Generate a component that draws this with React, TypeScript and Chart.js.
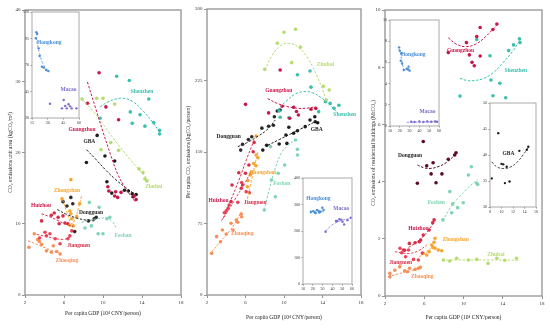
import React, { useEffect, useRef } from 'react';
import { Chart, registerables } from 'chart.js';
Chart.register(...registerables);

type P = [number, number];
type Lbl = [string, number, number, string];

const FONT = "'Liberation Serif', 'DejaVu Serif', serif";

const COL: Record<string, string> = {
  guangzhou: '#c8184a', shenzhen: '#3cbfae', zhuhai: '#b5dc6e', gba: '#1e1e1e', dongguan: '#2b2b2b',
  dongguan3: '#5a0c22', zhongshan: '#f7a531', huizhou: '#d52f48', jiangmen: '#e8455a', zhaoqing: '#f8905a',
  foshan: '#7fd4b2', hongkong: '#4a8fd8', macao: '#7b6cd1',
};

const X_TITLE = 'Per capita GDP (10\u2074 CNY/person)';
const P1_Y_TITLE = 'CO\u2082 emissions unit area (kgCO\u2082/m\u00b2)';
const P2_Y_TITLE = 'Per capita CO\u2082 emissions (kgCO\u2082/person)';
const P3_Y_TITLE = 'CO\u2082 emissions of residential buildings (MtCO\u2082)';

// ---------- Panel 1: emissions per unit area ----------
const p1Guangzhou: P[] = [[9.6, 31.2], [8.4, 26.9], [10.3, 26.4], [11.6, 24.6], [10.5, 15.2], [10.6, 14.6], [11.3, 14.5], [11.2, 13.9], [11.5, 13.7], [11.85, 14.4], [13.2, 13.9], [13.4, 13.4]];
const p1GuangzhouFit: P[] = [[8.4, 29.9], [9.2, 26.4], [10.0, 22.9], [10.8, 19.6], [11.5, 17.0], [12.2, 15.2], [12.8, 14.0], [13.3, 13.1]];
const p1Shenzhen: P[] = [[11.4, 30.7], [12.7, 30.1], [14.7, 27.5], [12.8, 25.7], [9.7, 24.8], [13.8, 25.3], [13.0, 24.1], [14.3, 23.7], [15.2, 24.2], [15.8, 23.1], [15.8, 22.6]];
const p1ShenzhenFit: P[] = [[9.7, 26.4], [10.5, 27.1], [11.3, 27.5], [12.1, 27.6], [13.0, 27.2], [14.0, 26.0], [15.0, 24.4], [15.8, 22.9]];
const p1Zhuhai: P[] = [[7.85, 27.5], [9.35, 27.6], [10.0, 27.6], [11.2, 26.8], [10.8, 21.4], [9.8, 20.4], [11.6, 20.3], [13.7, 17.7], [14.1, 17.2], [14.3, 16.3], [14.5, 16.0]];
const p1ZhuhaiFit: P[] = [[7.9, 27.4], [9.0, 25.8], [10.2, 23.6], [11.5, 21.2], [12.8, 19.0], [13.8, 17.4], [14.7, 16.1]];
const p1Gba: P[] = [[9.4, 22.4], [10.2, 19.5], [11.2, 18.8], [8.3, 18.6], [10.4, 15.9], [10.9, 14.3], [12.2, 14.7], [12.6, 14.6], [13.0, 14.2], [13.4, 14.1], [13.1, 13.8]];
const p1GbaFit: P[] = [[8.3, 20.4], [9.3, 19.0], [10.3, 17.5], [11.3, 16.2], [12.3, 15.1], [13.1, 14.3]];
const p1Dongguan: P[] = [[5.9, 13.1], [6.9, 12.8], [6.7, 13.7], [9.3, 10.9], [9.1, 10.7], [8.5, 10.4], [7.1, 8.9], [6.3, 12.5]];
const p1DongguanFit: P[] = [[5.3, 12.0], [6.3, 11.3], [7.3, 10.8], [8.3, 10.5], [9.2, 10.4]];
const p1Zhongshan: P[] = [[6.7, 16.2], [5.8, 13.5], [6.6, 11.8], [6.7, 11.4], [6.8, 10.7], [6.6, 9.8], [6.95, 9.7], [7.3, 11.0], [7.6, 12.8]];
const p1ZhongshanFit: P[] = [[5.85, 13.4], [6.3, 11.6], [6.8, 10.0], [7.2, 10.9], [7.5, 12.3], [7.8, 13.9]];
const p1Huizhou: P[] = [[3.7, 10.4], [5.0, 11.5], [5.9, 11.1], [5.5, 10.0], [6.1, 10.1], [6.4, 10.0], [5.4, 10.9], [4.7, 11.2]];
const p1HuizhouFit: P[] = [[3.7, 11.4], [4.5, 11.0], [5.3, 10.5], [6.1, 10.0], [6.95, 9.6]];
const p1Jiangmen: P[] = [[4.05, 8.8], [4.56, 8.6], [4.2, 8.3], [5.1, 7.9], [5.6, 7.2], [6.4, 7.9], [6.6, 8.3], [6.8, 9.0], [3.5, 8.0]];
const p1JiangmenFit: P[] = [[3.2, 8.5], [4.2, 8.2], [5.2, 7.9], [6.0, 7.8], [6.6, 8.1]];
const p1Zhaoqing: P[] = [[2.4, 6.7], [2.95, 8.6], [3.47, 7.5], [3.7, 7.1], [4.9, 6.9], [4.2, 6.2], [4.7, 6.0], [5.25, 6.1], [5.6, 5.75], [3.3, 7.8]];
const p1ZhaoqingFit: P[] = [[2.3, 7.6], [3.2, 7.1], [4.1, 6.6], [5.0, 6.1], [5.8, 5.7]];
const p1Foshan: P[] = [[8.6, 13.0], [9.6, 12.3], [10.4, 10.7], [10.7, 10.9], [8.8, 9.7], [9.5, 8.6], [10.0, 8.6], [8.15, 9.4]];
const p1FoshanFit: P[] = [[7.8, 10.2], [8.6, 10.5], [9.5, 10.7], [10.4, 10.8], [11.0, 10.2], [11.4, 9.3]];
const p1Labels: Lbl[] = [
  ['Shenzhen', 14.0, 28.5, 'shenzhen'], ['Guangzhou', 7.85, 23.2, 'guangzhou'], ['GBA', 8.6, 21.6, 'gba'],
  ['Zhuhai', 15.2, 15.2, 'zhuhai'], ['Zhongshan', 6.3, 14.6, 'zhongshan'], ['Huizhou', 3.64, 12.5, 'guangzhou'],
  ['Dongguan', 8.77, 11.6, 'gba'], ['Foshan', 12.05, 8.4, 'foshan'], ['Jiangmen', 7.5, 7.0, 'huizhou'],
  ['Zhaoqing', 6.3, 4.8, 'zhaoqing'],
];
const i1Hongkong: P[] = [[19.9, 99.2], [18.7, 95.2], [21.4, 85.7], [22.3, 78.5], [24.5, 68.4], [26.3, 67.5], [28.5, 65.3], [30.6, 64.3], [19.2, 101]];
const i1HongkongFit: P[] = [[18.7, 96], [20.5, 88], [22.5, 80], [25, 72], [28, 67], [31.5, 63.7]];
const i1Macao: P[] = [[32.2, 33.5], [45.3, 37], [46.8, 31.3], [48.3, 29.1], [53, 29.1], [57.5, 29.1], [43.7, 29.1], [50, 33], [51.5, 31]];
const i1Labels: Lbl[] = [['Hongkong', 31.5, 90.8, 'hongkong'], ['Macao', 50, 46.4, 'macao']];

// ---------- Panel 2: per capita emissions ----------
const p2Zhuhai: P[] = [[10.0, 275.6], [11.2, 278.7], [9.3, 264], [10.8, 243.7], [8.0, 236.7], [11.7, 260], [14.1, 219], [14.4, 204.5], [14.7, 215]];
const p2ZhuhaiFit: P[] = [[8.0, 236], [8.8, 252], [9.7, 262], [10.5, 264], [11.5, 260], [12.5, 248], [13.5, 228], [14.4, 204.5]];
const p2Guangzhou: P[] = [[9.6, 236], [6.0, 200], [8.4, 191], [9.8, 198], [11.0, 196.9], [12.8, 194.8], [13.3, 195.8], [10.6, 185.4], [11.5, 188.8], [11.3, 192.5]];
const p2GuangzhouFit: P[] = [[8.3, 206], [9.3, 201], [10.4, 197.5], [11.5, 195.8], [12.4, 196], [13.25, 197.5]];
const p2Shenzhen: P[] = [[11.4, 231], [12.7, 235], [12.8, 218], [14.3, 202.8], [14.8, 201], [15.7, 199], [15.2, 195.8], [10.5, 186], [9.5, 193], [13.6, 192.3], [9.6, 186.4]];
const p2ShenzhenFit: P[] = [[9.3, 194], [10.3, 204], [11.2, 211], [12.05, 213.3], [13.0, 212], [14.0, 206], [14.9, 198], [15.6, 190.6]];
const p2Gba: P[] = [[8.2, 157], [7.8, 152], [10.5, 175.9], [11.4, 172.3], [11.0, 169.6], [10.2, 167.8], [13.25, 181.8], [13.5, 180.7], [13.2, 187], [12.7, 183.6], [12.2, 176.6], [9.5, 158.4], [10.3, 159]];
const p2GbaFit: P[] = [[8.3, 157], [9.5, 163], [10.7, 169], [12.0, 175.5], [13.25, 181.8]];
const p2Dongguan: P[] = [[5.5, 152], [5.7, 158], [6.3, 163], [6.65, 166], [7.7, 175], [8.4, 177], [8.9, 178], [9.0, 187], [9.3, 193], [9.6, 194]];
const p2DongguanFit: P[] = [[5.2, 155.6], [6.2, 160], [7.2, 166], [8.2, 173], [9.1, 183.6]];
const p2Zhongshan: P[] = [[7.1, 135.6], [6.6, 128.7], [6.24, 120], [7.1, 146.9], [7.3, 144], [6.85, 138], [6.5, 125.9], [6.2, 113.6], [7.1, 166.8]];
const p2ZhongshanFit: P[] = [[6.2, 101], [6.5, 115], [6.8, 128], [7.05, 140], [7.3, 150]];
const p2Huizhou: P[] = [[6.8, 150.3], [6.35, 136.4], [5.3, 128.3], [6.0, 127.7], [5.7, 115.4], [5.56, 111.9], [4.5, 97.9], [4.6, 115.4], [6.9, 160]];
const p2HuizhouFit: P[] = [[3.7, 80.5], [4.5, 100], [5.3, 120], [6.1, 142], [6.9, 162.6]];
const p2Jiangmen: P[] = [[6.07, 108.4], [6.4, 107.3], [5.2, 97.2], [4.0, 88.4], [4.2, 91], [3.8, 86.3], [4.3, 94.4], [5.6, 118]];
const p2JiangmenFit: P[] = [[3.5, 78], [4.3, 90], [5.0, 102], [5.8, 115], [6.5, 128]];
const p2Zhaoqing: P[] = [[2.48, 43.7], [3.0, 61.2], [3.4, 55.9], [3.6, 68.2], [4.5, 75.2], [4.7, 68.2], [5.05, 78.7], [5.6, 82.1], [4.0, 64], [5.2, 76.3], [5.56, 85]];
const p2ZhaoqingFit: P[] = [[2.5, 45.4], [3.3, 55], [4.1, 64], [4.9, 75], [5.56, 87.4]];
const p2Foshan: P[] = [[8.6, 155.6], [11.4, 152.8], [11.4, 146.9], [10.07, 136.4], [9.4, 127.7], [8.7, 120.6], [9.1, 103.1], [7.95, 89.2], [11.2, 162.6]];
const p2FoshanFit: P[] = [[7.95, 89], [8.5, 112], [9.1, 133], [9.7, 148.6], [10.4, 157], [11.2, 162.6]];
const p2Labels: Lbl[] = [
  ['Zhuhai', 14.3, 242, 'zhuhai'], ['Guangzhou', 9.46, 214, 'guangzhou'], ['Shenzhen', 16.3, 188.8, 'shenzhen'],
  ['GBA', 13.4, 173.8, 'gba'], ['Dongguan', 4.25, 166, 'gba'], ['Zhongshan', 7.8, 128, 'zhongshan'],
  ['Foshan', 9.76, 116.4, 'foshan'], ['Huizhou', 3.2, 98.9, 'guangzhou'], ['Jiangmen', 7.0, 96.5, 'huizhou'],
  ['Zhaoqing', 5.67, 64.7, 'zhaoqing'],
];
const i2Hongkong: P[] = [[18, 272.6], [20.3, 275], [22, 270], [24.3, 279], [25.7, 276], [29.7, 287.6], [31, 279], [28, 272.6], [26.5, 270], [23, 268]];
const i2HongkongFit: P[] = [[17, 266], [20, 272], [23, 276], [26, 277], [29, 275], [31, 272]];
const i2Macao: P[] = [[33, 197], [43.7, 237.5], [47, 245], [50.3, 235], [52, 225], [55.3, 241], [58.7, 250], [49, 243], [45, 238]];
const i2MacaoFit: P[] = [[33, 200], [38, 218], [43, 230], [48, 238], [53, 243], [58.5, 247]];
const i2Labels: Lbl[] = [['Hongkong', 25.7, 323, 'hongkong'], ['Macao', 49, 285, 'macao']];

// ---------- Panel 3: residential building emissions ----------
const p3Guangzhou: P[] = [[13.4, 9.51], [11.7, 9.39], [13.0, 9.32], [11.35, 9.07], [10.3, 8.86], [8.45, 8.51], [10.6, 8.43], [11.7, 8.39], [10.87, 8.17], [11.1, 8.05]];
const p3GuangzhouFit: P[] = [[8.45, 9.03], [9.3, 8.8], [10.25, 8.72], [11.2, 8.8], [12.2, 9.05], [13.4, 9.48]];
const p3Shenzhen: P[] = [[15.7, 8.99], [15.76, 8.86], [15.1, 8.78], [14.6, 8.58], [12.7, 8.4], [12.8, 7.55], [13.7, 7.44], [14.3, 6.93], [13.0, 7.0], [9.64, 6.99], [11.35, 8.97]];
const p3ShenzhenFit: P[] = [[9.64, 7.61], [10.4, 7.53], [11.0, 7.53], [12.0, 7.6], [13.0, 7.8], [14.0, 8.15], [15.0, 8.55], [15.76, 8.95]];
const p3Dongguan: P[] = [[5.9, 5.4], [9.24, 5.01], [9.1, 4.93], [8.45, 4.78], [6.25, 4.55], [6.9, 4.66], [6.7, 4.27], [7.8, 4.27], [5.3, 3.94], [7.2, 3.96]];
const p3DongguanFit: P[] = [[5.3, 4.58], [6.0, 4.48], [6.6, 4.46], [7.4, 4.52], [8.3, 4.68], [9.3, 4.99]];
const p3Foshan: P[] = [[10.8, 4.52], [10.5, 4.23], [11.35, 3.94], [11.45, 3.9], [8.6, 3.65], [8.9, 3.22], [9.98, 3.26], [9.4, 3.09], [8.8, 2.91], [7.9, 2.66]];
const p3FoshanFit: P[] = [[7.88, 2.63], [8.6, 3.05], [9.4, 3.4], [10.2, 3.7], [10.9, 3.92], [11.45, 4.06]];
const p3Huizhou: P[] = [[7.0, 2.66], [6.86, 2.56], [6.5, 2.31], [5.9, 2.13], [5.64, 1.96], [5.5, 1.9], [5.06, 1.86], [4.48, 1.84], [4.0, 1.6]];
const p3HuizhouFit: P[] = [[4.4, 1.7], [5.1, 1.85], [5.8, 2.05], [6.5, 2.33], [7.1, 2.66]];
const p3Jiangmen: P[] = [[3.87, 1.61], [3.7, 1.51], [4.4, 1.61], [4.1, 1.37], [4.9, 1.28], [5.4, 1.26], [3.53, 1.67], [5.8, 1.5]];
const p3JiangmenFit: P[] = [[3.0, 1.55], [3.8, 1.5], [4.55, 1.49], [5.4, 1.58], [6.25, 1.78]];
const p3Zhongshan: P[] = [[7.1, 2.02], [7.0, 1.88], [6.76, 1.78], [7.1, 1.67], [7.43, 1.61], [7.78, 1.58], [6.5, 1.55], [6.25, 1.43], [5.9, 1.49], [6.9, 1.7]];
const p3ZhongshanFit: P[] = [[5.5, 1.37], [6.0, 1.48], [6.5, 1.62], [6.9, 1.8], [7.2, 1.98]];
const p3Zhaoqing: P[] = [[2.5, 0.67], [2.5, 0.79], [3.5, 1.02], [4.0, 0.88], [4.5, 0.97], [5.06, 0.93], [5.4, 0.97], [5.6, 1.0], [3.0, 0.9], [4.3, 0.85]];
const p3ZhaoqingFit: P[] = [[2.3, 0.67], [3.2, 0.76], [4.1, 0.84], [5.0, 0.92], [5.74, 1.0]];
const p3Zhuhai: P[] = [[7.95, 1.26], [9.3, 1.32], [10.5, 1.26], [11.35, 1.28], [12.5, 1.14], [13.4, 1.32], [14.2, 1.25], [15.4, 1.32], [8.6, 1.22]];
const p3ZhuhaiFit: P[] = [[7.8, 1.25], [10, 1.26], [12, 1.26], [14, 1.26], [15.6, 1.25]];
const p3Labels: Lbl[] = [
  ['Guangzhou', 9.7, 8.58, 'guangzhou'], ['Shenzhen', 15.33, 7.88, 'shenzhen'], ['Dongguan', 4.55, 4.92, 'gba'],
  ['Foshan', 7.23, 3.25, 'foshan'], ['Huizhou', 5.4, 2.34, 'guangzhou'], ['Zhongshan', 9.2, 1.96, 'zhongshan'],
  ['Zhuhai', 13.3, 1.44, 'zhuhai'], ['Jiangmen', 3.6, 1.18, 'huizhou'], ['Zhaoqing', 5.8, 0.69, 'zhaoqing'],
];
const iaHongkong: P[] = [[19.3, 7.42], [20, 7.1], [21.7, 6.86], [21, 6.16], [22.3, 5.9], [24, 5.28], [28.3, 5.35], [30, 5.22], [27, 5.4], [29, 5.6]];
const iaHongkongFit: P[] = [[19, 7.3], [20.5, 6.9], [22, 6.2], [23.5, 5.5], [25, 5.3], [28, 5.3], [30, 5.3]];
const iaMacao: P[] = [[31.7, 0.4], [35, 0.38], [40, 0.42], [44, 0.38], [48, 0.42], [52, 0.4], [56, 0.42], [58, 0.4]];
const iaMacaoFit: P[] = [[27, 0.35], [35, 0.36], [45, 0.38], [58, 0.4]];
const iaLabels: Lbl[] = [['Hongkong', 33.8, 6.7, 'hongkong'], ['Macao', 48.3, 1.35, 'macao']];
const ibGba: P[] = [[9.44, 44.2], [14.66, 41.6], [13.1, 40.8], [14.4, 41], [10.3, 38.2], [10.9, 37.75], [10.0, 38.3], [8.3, 35.5], [10.6, 34.6], [11.4, 34.9]];
const ibGbaFit: P[] = [[8.3, 38.7], [9.2, 37.7], [10.4, 37.4], [11.6, 37.7], [12.8, 38.7], [13.8, 40.1], [14.7, 41.5]];
const ibLabels: Lbl[] = [['GBA', 11.2, 40.3, 'gba']];

// ---------- helpers ----------
const toXY = (d: P[]) => d.map(([x, y]) => ({ x, y }));
function pts(d: P[], key: string, r = 1.8): any {
  const c = COL[key];
  return { data: toXY(d), backgroundColor: c, borderColor: c, pointRadius: r, pointBorderWidth: 0, showLine: false };
}
function fit(d: P[], key: string, w = 1): any {
  const c = COL[key];
  return { data: toXY(d), borderColor: c, backgroundColor: c, borderWidth: w, borderDash: [2.5, 1.6], pointRadius: 0, showLine: true, tension: 0.4, fill: false };
}

function axis(min: number, max: number, step: number, size: number, horizontal: boolean, fontSize: number, tickLen: number, title?: string, titlePad = 0): any {
  return {
    type: 'linear', min, max,
    ticks: { stepSize: step, font: { family: FONT, size: fontSize }, color: '#333', padding: 1.5, autoSkip: false, maxRotation: 0 },
    grid: { display: true, drawOnChartArea: false, drawTicks: true, tickLength: tickLen, color: '#777', lineWidth: 0.8 },
    border: { display: false },
    title: title
      ? { display: true, text: title, font: { family: FONT, size: 5.5 }, color: '#222', padding: horizontal ? { top: 0, bottom: titlePad } : { top: titlePad, bottom: 0 } }
      : { display: false },
    afterFit: (s: any) => {
      if (horizontal) s.height = size; else s.width = size;
      s.paddingLeft = 0; s.paddingRight = 0; s.paddingTop = 0; s.paddingBottom = 0;
    },
  };
}

function framePlugin(fillWhite: boolean, color: string, lw: number): any {
  return {
    id: 'frame',
    beforeDraw(chart: any) {
      if (!fillWhite) return;
      const { ctx, chartArea: a } = chart;
      ctx.save(); ctx.fillStyle = '#fff'; ctx.fillRect(a.left, a.top, a.right - a.left, a.bottom - a.top); ctx.restore();
    },
    afterDraw(chart: any) {
      const { ctx, chartArea: a } = chart;
      ctx.save(); ctx.strokeStyle = color; ctx.lineWidth = lw;
      ctx.strokeRect(a.left, a.top, a.right - a.left, a.bottom - a.top); ctx.restore();
    },
  };
}

function labelPlugin(items: Lbl[], size: number): any {
  return {
    id: 'cityLabels',
    afterDatasetsDraw(chart: any) {
      const { ctx, scales } = chart;
      ctx.save();
      ctx.font = `bold ${size}px ${FONT}`;
      ctx.textAlign = 'center'; ctx.textBaseline = 'middle';
      for (const [t, x, y, k] of items) {
        ctx.fillStyle = COL[k];
        ctx.fillText(t, scales.x.getPixelForValue(x), scales.y.getPixelForValue(y));
      }
      ctx.restore();
    },
  };
}

function config(datasets: any[], labels: Lbl[], x: any, y: any, padding: any, inset: boolean): any {
  return {
    type: 'scatter',
    data: { datasets },
    options: {
      animation: false, responsive: false, events: [],
      layout: { padding },
      plugins: { legend: { display: false }, tooltip: { enabled: false } },
      scales: { x, y },
    },
    plugins: [framePlugin(inset, inset ? '#aaa' : '#9a9a9a', inset ? 1 : 1.4), labelPlugin(labels, 5.5)],
  };
}

function ChartBox(props: { left: number; top: number; width: number; height: number; build: () => any }) {
  const ref = useRef<HTMLCanvasElement>(null);
  useEffect(() => {
    const chart = new Chart(ref.current as HTMLCanvasElement, props.build());
    return () => chart.destroy();
  }, []);
  const { left, top, width, height } = props;
  return <canvas ref={ref} width={width} height={height} style={{ position: 'absolute', left, top, width, height }} />;
}

const buildP1 = () => config([
  fit(p1GuangzhouFit, 'guangzhou'), fit(p1ShenzhenFit, 'shenzhen'), fit(p1ZhuhaiFit, 'zhuhai'), fit(p1GbaFit, 'gba'),
  fit(p1DongguanFit, 'dongguan'), fit(p1ZhongshanFit, 'zhongshan'), fit(p1HuizhouFit, 'huizhou'), fit(p1JiangmenFit, 'jiangmen'),
  fit(p1ZhaoqingFit, 'zhaoqing'), fit(p1FoshanFit, 'foshan'),
  pts(p1Guangzhou, 'guangzhou'), pts(p1Shenzhen, 'shenzhen'), pts(p1Zhuhai, 'zhuhai'), pts(p1Gba, 'gba'), pts(p1Dongguan, 'dongguan'),
  pts(p1Zhongshan, 'zhongshan'), pts(p1Huizhou, 'huizhou'), pts(p1Jiangmen, 'jiangmen'), pts(p1Zhaoqing, 'zhaoqing'), pts(p1Foshan, 'foshan'),
], p1Labels, axis(2, 18, 4, 26, true, 5, 3, X_TITLE, 4), axis(0, 40, 10, 25, false, 5, 3, P1_Y_TITLE, 7), { left: 0, right: 4, top: 10, bottom: 7 }, false);

const buildI1 = () => config([
  fit(i1HongkongFit, 'hongkong', 0.8), pts(i1Hongkong, 'hongkong', 1.2), pts(i1Macao, 'macao', 1.2),
], i1Labels, axis(15, 60, 15, 6, true, 4, 1.5), axis(20, 120, 25, 12, false, 4, 1.5), { left: 0, right: 2, top: 8, bottom: 4 }, true);

const buildP2 = () => config([
  fit(p2ZhuhaiFit, 'zhuhai'), fit(p2GuangzhouFit, 'guangzhou'), fit(p2ShenzhenFit, 'shenzhen'), fit(p2GbaFit, 'gba'),
  fit(p2DongguanFit, 'dongguan'), fit(p2ZhongshanFit, 'zhongshan'), fit(p2HuizhouFit, 'huizhou'), fit(p2JiangmenFit, 'jiangmen'),
  fit(p2ZhaoqingFit, 'zhaoqing'), fit(p2FoshanFit, 'foshan'),
  pts(p2Zhuhai, 'zhuhai'), pts(p2Guangzhou, 'guangzhou'), pts(p2Shenzhen, 'shenzhen'), pts(p2Gba, 'gba'), pts(p2Dongguan, 'dongguan'),
  pts(p2Zhongshan, 'zhongshan'), pts(p2Huizhou, 'huizhou'), pts(p2Jiangmen, 'jiangmen'), pts(p2Zhaoqing, 'zhaoqing'), pts(p2Foshan, 'foshan'),
], p2Labels, axis(2, 18, 4, 28, true, 5, 3, X_TITLE, 2), axis(0, 300, 75, 22, false, 5, 3, P2_Y_TITLE, 0), { left: 0, right: 2, top: 9, bottom: 5 }, false);

const buildI2 = () => config([
  fit(i2HongkongFit, 'hongkong', 0.8), fit(i2MacaoFit, 'macao', 0.8), pts(i2Hongkong, 'hongkong', 1.2), pts(i2Macao, 'macao', 1.2),
], i2Labels, axis(10, 60, 10, 7, true, 4, 1.5), axis(0, 400, 100, 13, false, 4, 1.5), { left: 0, right: 3, top: 6, bottom: 3 }, true);

const buildP3 = () => config([
  fit(p3GuangzhouFit, 'guangzhou'), fit(p3ShenzhenFit, 'shenzhen'), fit(p3DongguanFit, 'dongguan3'), fit(p3FoshanFit, 'foshan'),
  fit(p3HuizhouFit, 'huizhou'), fit(p3JiangmenFit, 'jiangmen'), fit(p3ZhongshanFit, 'zhongshan'), fit(p3ZhaoqingFit, 'zhaoqing'),
  fit(p3ZhuhaiFit, 'zhuhai'),
  pts(p3Guangzhou, 'guangzhou'), pts(p3Shenzhen, 'shenzhen'), pts(p3Dongguan, 'dongguan3'), pts(p3Foshan, 'foshan'), pts(p3Huizhou, 'huizhou'),
  pts(p3Jiangmen, 'jiangmen'), pts(p3Zhongshan, 'zhongshan'), pts(p3Zhaoqing, 'zhaoqing'), pts(p3Zhuhai, 'zhuhai'),
], p3Labels, axis(2, 18, 4, 27, true, 5, 3, X_TITLE, 2), axis(0, 10, 2, 20, false, 5, 3, P3_Y_TITLE, 5), { left: 0, right: 8, top: 10, bottom: 5 }, false);

const buildIA = () => config([
  fit(iaHongkongFit, 'hongkong', 0.8), fit(iaMacaoFit, 'macao', 0.8), pts(iaHongkong, 'hongkong', 1.2), pts(iaMacao, 'macao', 1.2),
], iaLabels, axis(10, 60, 10, 7, true, 4, 1.5), axis(0, 10, 2, 12, false, 4, 1.5), { left: 0, right: 3, top: 6, bottom: 3 }, true);

const buildIB = () => config([
  fit(ibGbaFit, 'gba', 0.8), pts(ibGba, 'gba', 1.2),
], ibLabels, axis(8, 16, 2, 7, true, 4, 1.5), axis(30, 50, 5, 12, false, 4, 1.5), { left: 0, right: 4, top: 6, bottom: 3 }, true);

export default function App() {
  return (
    <div style={{ position: 'absolute', left: 0, top: 0, width: 550, height: 328, background: '#fff', overflow: 'hidden' }}>
      <ChartBox left={0} top={0} width={185} height={328} build={buildP1} />
      <ChartBox left={185} top={0} width={180} height={328} build={buildP2} />
      <ChartBox left={365} top={0} width={185} height={328} build={buildP3} />
      <ChartBox left={20} top={4} width={63} height={124} build={buildI1} />
      <ChartBox left={290} top={172} width={66} height={122} build={buildI2} />
      <ChartBox left={378} top={14} width={65} height={122} build={buildIA} />
      <ChartBox left={478} top={97} width={62} height={120} build={buildIB} />
    </div>
  );
}
